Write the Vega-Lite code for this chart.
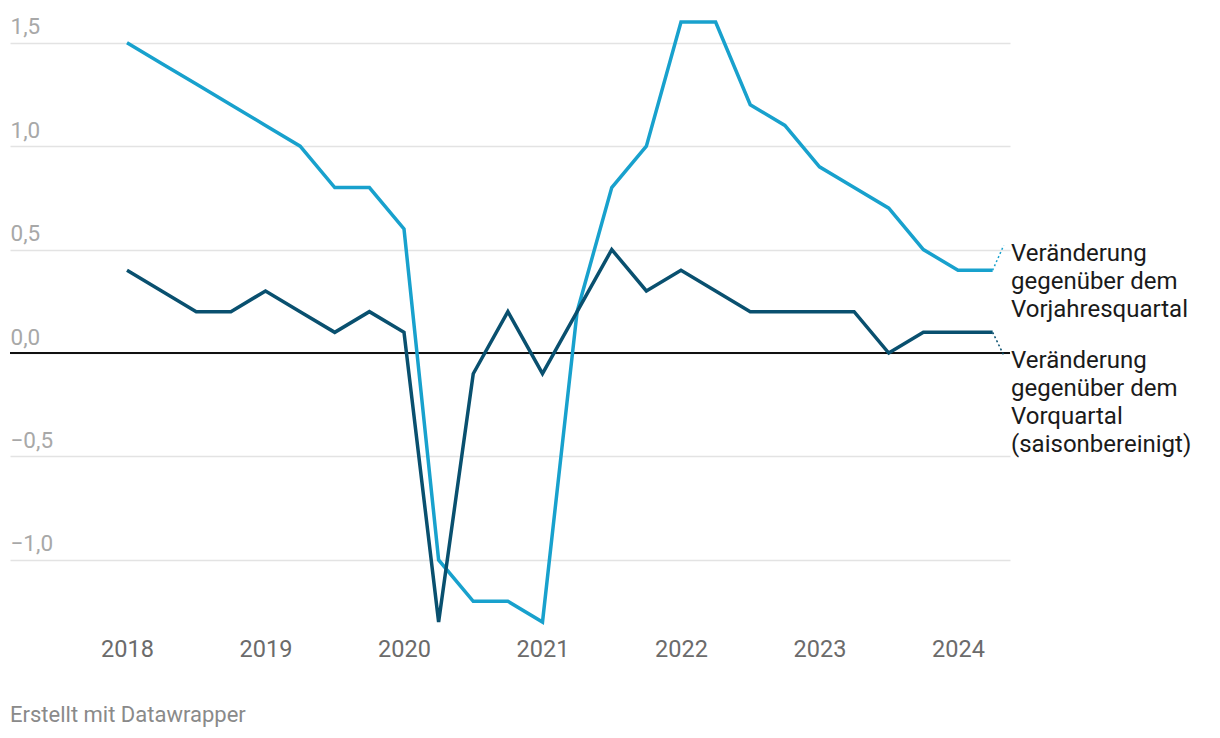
{
  "$schema": "https://vega.github.io/schema/vega-lite/v6.json",
  "width": 1000,
  "height": 600,
  "autosize": {"type": "none"},
  "padding": {"left": 10, "top": 22, "right": 210, "bottom": 116},
  "background": "white",
  "config": {"view": {"stroke": null}, "font": "Roboto"},
  "title": {"text": "Erstellt mit Datawrapper", "orient": "bottom", "anchor": "start", "frame": "group", "fontSize": 22, "fontWeight": "normal", "color": "#8a8a8a", "font": "Roboto", "offset": 44},
  "datasets": {
    "series": [
      {"date": 2018, "series": "Vorjahresquartal", "value": 1.5},
      {"date": 2018.25, "series": "Vorjahresquartal", "value": 1.4},
      {"date": 2018.5, "series": "Vorjahresquartal", "value": 1.3},
      {"date": 2018.75, "series": "Vorjahresquartal", "value": 1.2},
      {"date": 2019, "series": "Vorjahresquartal", "value": 1.1},
      {"date": 2019.25, "series": "Vorjahresquartal", "value": 1.0},
      {"date": 2019.5, "series": "Vorjahresquartal", "value": 0.8},
      {"date": 2019.75, "series": "Vorjahresquartal", "value": 0.8},
      {"date": 2020, "series": "Vorjahresquartal", "value": 0.6},
      {"date": 2020.25, "series": "Vorjahresquartal", "value": -1.0},
      {"date": 2020.5, "series": "Vorjahresquartal", "value": -1.2},
      {"date": 2020.75, "series": "Vorjahresquartal", "value": -1.2},
      {"date": 2021, "series": "Vorjahresquartal", "value": -1.3},
      {"date": 2021.25, "series": "Vorjahresquartal", "value": 0.2},
      {"date": 2021.5, "series": "Vorjahresquartal", "value": 0.8},
      {"date": 2021.75, "series": "Vorjahresquartal", "value": 1.0},
      {"date": 2022, "series": "Vorjahresquartal", "value": 1.6},
      {"date": 2022.25, "series": "Vorjahresquartal", "value": 1.6},
      {"date": 2022.5, "series": "Vorjahresquartal", "value": 1.2},
      {"date": 2022.75, "series": "Vorjahresquartal", "value": 1.1},
      {"date": 2023, "series": "Vorjahresquartal", "value": 0.9},
      {"date": 2023.25, "series": "Vorjahresquartal", "value": 0.8},
      {"date": 2023.5, "series": "Vorjahresquartal", "value": 0.7},
      {"date": 2023.75, "series": "Vorjahresquartal", "value": 0.5},
      {"date": 2024, "series": "Vorjahresquartal", "value": 0.4},
      {"date": 2024.25, "series": "Vorjahresquartal", "value": 0.4},
      {"date": 2018, "series": "Vorquartal", "value": 0.4},
      {"date": 2018.25, "series": "Vorquartal", "value": 0.3},
      {"date": 2018.5, "series": "Vorquartal", "value": 0.2},
      {"date": 2018.75, "series": "Vorquartal", "value": 0.2},
      {"date": 2019, "series": "Vorquartal", "value": 0.3},
      {"date": 2019.25, "series": "Vorquartal", "value": 0.2},
      {"date": 2019.5, "series": "Vorquartal", "value": 0.1},
      {"date": 2019.75, "series": "Vorquartal", "value": 0.2},
      {"date": 2020, "series": "Vorquartal", "value": 0.1},
      {"date": 2020.25, "series": "Vorquartal", "value": -1.3},
      {"date": 2020.5, "series": "Vorquartal", "value": -0.1},
      {"date": 2020.75, "series": "Vorquartal", "value": 0.2},
      {"date": 2021, "series": "Vorquartal", "value": -0.1},
      {"date": 2021.25, "series": "Vorquartal", "value": 0.2},
      {"date": 2021.5, "series": "Vorquartal", "value": 0.5},
      {"date": 2021.75, "series": "Vorquartal", "value": 0.3},
      {"date": 2022, "series": "Vorquartal", "value": 0.4},
      {"date": 2022.25, "series": "Vorquartal", "value": 0.3},
      {"date": 2022.5, "series": "Vorquartal", "value": 0.2},
      {"date": 2022.75, "series": "Vorquartal", "value": 0.2},
      {"date": 2023, "series": "Vorquartal", "value": 0.2},
      {"date": 2023.25, "series": "Vorquartal", "value": 0.2},
      {"date": 2023.5, "series": "Vorquartal", "value": 0.0},
      {"date": 2023.75, "series": "Vorquartal", "value": 0.1},
      {"date": 2024, "series": "Vorquartal", "value": 0.1},
      {"date": 2024.25, "series": "Vorquartal", "value": 0.1}
    ],
    "connectors": [
      {"date": 2024.25, "series": "Vorjahresquartal", "value": 0.4},
      {"date": 2024.33, "series": "Vorjahresquartal", "value": 0.52},
      {"date": 2024.25, "series": "Vorquartal", "value": 0.1},
      {"date": 2024.33, "series": "Vorquartal", "value": -0.01}
    ]
  },
  "layer": [
    {
      "data": {"values": [{}]},
      "mark": {"type": "rule", "color": "#111111", "strokeWidth": 2},
      "encoding": {"y": {"datum": 0, "type": "quantitative"}}
    },
    {
      "data": {"name": "series"},
      "mark": {"type": "line", "strokeWidth": 3.5, "strokeJoin": "miter"},
      "encoding": {
        "x": {
          "field": "date", "type": "quantitative",
          "scale": {"domain": [2017.1552, 2024.3755], "nice": false, "zero": false},
          "axis": {"title": null, "values": [2018, 2019, 2020, 2021, 2022, 2023, 2024], "format": "d", "domain": false, "ticks": false, "grid": false, "labelFontSize": 23.5, "labelColor": "#6b6b6b", "labelPadding": 15, "labelFont": "Roboto"}
        },
        "y": {
          "field": "value", "type": "quantitative",
          "scale": {"domain": [-1.3, 1.6], "nice": false, "zero": false},
          "axis": {"title": null, "values": [-1, -0.5, 0, 0.5, 1, 1.5], "labelExpr": "replace(replace(format(datum.value, '.1f'), '.', ','), '-', '\u2212')", "domain": false, "ticks": false, "tickSize": 0, "grid": true, "gridColor": "#e3e3e3", "gridWidth": 1.5, "labelAlign": "left", "labelBaseline": "alphabetic", "labelPadding": 0, "labelOffset": -9, "labelFontSize": 22.5, "labelColor": "#a8a8a8", "labelFont": "Roboto"}
        },
        "color": {"field": "series", "type": "nominal", "scale": {"domain": ["Vorjahresquartal", "Vorquartal"], "range": ["#18a1cd", "#09506f"]}, "legend": null}
      }
    },
    {
      "data": {"name": "connectors"},
      "mark": {"type": "line", "strokeWidth": 1.5, "strokeDash": [2, 2.5]},
      "encoding": {
        "x": {"field": "date", "type": "quantitative"},
        "y": {"field": "value", "type": "quantitative"},
        "color": {"field": "series", "type": "nominal", "legend": null}
      }
    },
    {
      "data": {"values": [{}]},
      "mark": {"type": "text", "text": ["Veränderung", "gegenüber dem", "Vorjahresquartal"], "align": "left", "baseline": "alphabetic", "lineHeight": 28, "fontSize": 24, "color": "#1a1a1a", "font": "Roboto", "dx": 1},
      "encoding": {"x": {"datum": 2024.3755, "type": "quantitative"}, "y": {"datum": 0.445, "type": "quantitative"}}
    },
    {
      "data": {"values": [{}]},
      "mark": {"type": "text", "text": ["Veränderung", "gegenüber dem", "Vorquartal", "(saisonbereinigt)"], "align": "left", "baseline": "alphabetic", "lineHeight": 28, "fontSize": 24, "color": "#1a1a1a", "font": "Roboto", "dx": 1},
      "encoding": {"x": {"datum": 2024.3755, "type": "quantitative"}, "y": {"datum": -0.0725, "type": "quantitative"}}
    }
  ]
}
